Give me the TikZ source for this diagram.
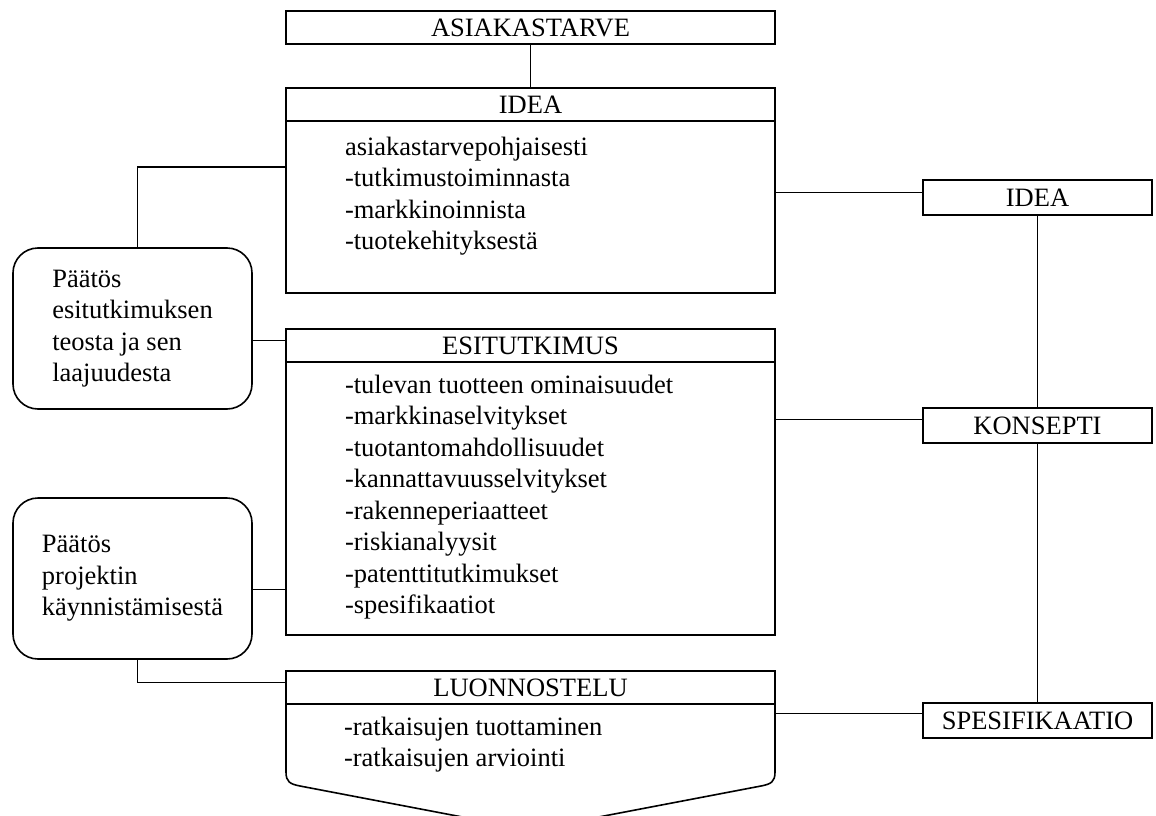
\documentclass[tikz,border=0pt]{standalone}
\usepackage{fontspec}
\setmainfont{Liberation Serif}
\usetikzlibrary{positioning}

\begin{document}
\begin{tikzpicture}[x=1pt,y=-1pt,line width=1.6pt,
    every node/.style={font=\fontsize{26.5}{31.5}\selectfont,inner sep=0pt,outer sep=0pt},
    title/.style={draw,minimum width=489pt,minimum height=33pt},
    frame/.style={draw,minimum width=489pt},
    items/.style={align=left,anchor=north west},
    decision/.style={draw,rounded corners=25pt,minimum width=239pt,minimum height=161pt,align=left},
    phase/.style={draw,minimum width=229pt,minimum height=35pt}]
  \useasboundingbox (0,0) rectangle (1156,816);
  \clip (0,0) rectangle (1156,816);

        \node[title]                                (asiakas)  at (530.5,27.5) {ASIAKASTARVE};
        \node[title,below=44pt of asiakas]          (ideahead) {IDEA};
        \node[frame,minimum height=172pt,below=0pt of ideahead] (ideabody) {};
        \node[items,below right=16pt and 59pt of ideabody.north west] (idealist)
             {asiakastarvepohjaisesti\\-tutkimustoiminnasta\\-markkinoinnista\\-tuotekehityksestä};

        \node[title,below=36pt of ideabody]         (esithead) {ESITUTKIMUS};
        \node[frame,minimum height=273pt,below=0pt of esithead] (esitbody) {};
        \node[items,below right=13pt and 59pt of esitbody.north west] (esitlist)
             {-tulevan tuotteen ominaisuudet\\-markkinaselvitykset\\-tuotantomahdollisuudet\\
              -kannattavuusselvitykset\\-rakenneperiaatteet\\-riskianalyysit\\
              -patenttitutkimukset\\-spesifikaatiot};

        \node[title,below=36pt of esitbody]         (luonhead) {LUONNOSTELU};
        \node[frame,draw=none,minimum height=68pt,below=0pt of luonhead] (luonbody) {};
        \node[items,below right=13pt and 58pt of luonbody.north west] (luonlist)
             {-ratkaisujen tuottaminen\\-ratkaisujen arviointi};

        \node[decision]                             (paatos1)  at (132.5,328.5)
             {Päätös\\esitutkimuksen\\teosta ja sen\\laajuudesta};
        \node[decision,below=89pt of paatos1]       (paatos2)
             {Päätös\\projektin\\käynnistämisestä};

        \node[phase]                                (ideaphase) at (1037.5,197.5) {IDEA};
        \node[phase,below=193pt of ideaphase]       (konsepti) {KONSEPTI};
        \node[phase,below=260pt of konsepti]        (spesif)   {SPESIFIKAATIO};

  % open bottom of the sketching box
  \draw (luonbody.north west) -- (luonbody.south west)
        .. controls (286,782) and (290,784) .. (300,786) -- (530.5,830) -- (761,786)
        .. controls (771,784) and (775,782) .. (luonbody.south east) -- (luonbody.north east);

  \draw (asiakas) -- (ideahead);
  \draw ([yshift=40pt]ideabody.west) -| ([xshift=5pt]paatos1.north);
  \draw ([yshift=5pt]esithead.west) -- ([yshift=5pt]esithead.west -| paatos1.east);
  \draw ([yshift=-11pt]paatos2.east) -- ([yshift=-11pt]paatos2.east -| esitbody.west);
  \draw ([xshift=5pt]paatos2.south) |- ([yshift=5pt]luonhead.west);

  \draw ([yshift=5pt]ideaphase.west) -- ([yshift=5pt]ideaphase.west -| ideabody.east);
  \draw ([yshift=6pt]konsepti.west) -- ([yshift=6pt]konsepti.west -| esitbody.east);
  \draw ([yshift=7pt]spesif.west) -- ([yshift=7pt]spesif.west -| luonbody.east);
  \draw (ideaphase) -- (konsepti) -- (spesif);
\end{tikzpicture}
\end{document}
